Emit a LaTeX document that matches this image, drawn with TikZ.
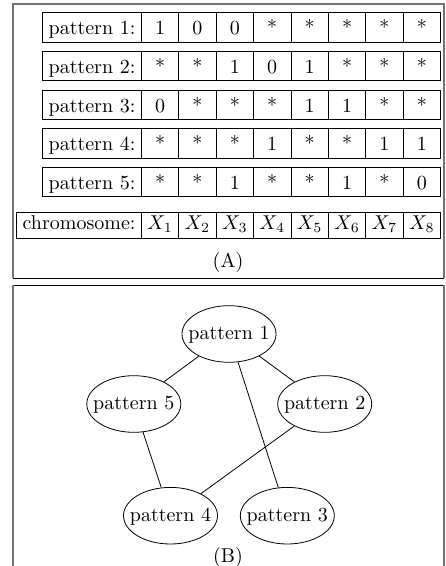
\documentclass[tikz,border=0pt]{standalone}
\usetikzlibrary{shapes.geometric}
\newcommand\st{*}
\begin{document}
\begin{tikzpicture}[x=0.5pt,y=-0.5pt,
  cell/.style={draw, line width=0.4pt, minimum width=18.7pt, minimum height=14.65pt, inner sep=0pt, text height=8pt, text depth=0.5pt},
  lab/.style={cell, minimum width=49.3pt},
  ccell/.style={draw, line width=0.4pt, minimum width=18.7pt, minimum height=12.8pt, inner sep=0pt, text height=6pt, text depth=2.2pt},
  clab/.style={ccell, minimum width=62.3pt},
  ell/.style={ellipse, draw, line width=0.4pt, minimum width=47pt, minimum height=28.3pt, inner sep=0pt, text height=7pt, text depth=1.7pt},
  frame/.style={draw=black!55, line width=0.7pt},
  sep/.style={draw=black, line width=0.5pt}]
\useasboundingbox (0,0) rectangle (445,566);
% frames
\draw[frame] (13,278) -- (13,4) -- (444,4) -- (444,278);
\draw[sep] (13,278) -- (444,278);
\draw[sep] (13,285) -- (444,285);
\draw[frame] (13,285) -- (13,572);
\draw[frame] (444,285) -- (444,572);
% pattern rows
\foreach \row/\vals in {1/{1,0,0,\st,\st,\st,\st,\st},
                        2/{\st,\st,1,0,1,\st,\st,\st},
                        3/{0,\st,\st,\st,1,1,\st,\st},
                        4/{\st,\st,\st,1,\st,\st,1,1},
                        5/{\st,\st,1,\st,\st,1,\st,0}} {
  \node[lab] (r\row c0) at (92,{-11.3+38.7*\row}) {pattern \row:};
  \foreach \v [count=\c] in \vals {
    \node[cell] (r\row c\c) at ({122.6+37.4*\c},{-11.3+38.7*\row}) {\v};
  }
}
% chromosome row
\node[clab] (ch0) at (79,225.5) {chromosome:};
\foreach \c in {1,...,8} {
  \node[ccell] (ch\c) at ({122.6+37.4*\c},225.5) {$X_{\c}$};
}
\node (labA) at (228,262.3) {(A)};
% graph
\node[ell] (p1) at (229,334) {\makebox[0pt]{pattern 1}};
\node[ell] (p5) at (133.8,404) {\makebox[0pt]{pattern 5}};
\node[ell] (p2) at (324.7,404) {\makebox[0pt]{pattern 2}};
\node[ell] (p4) at (170.5,515.7) {\makebox[0pt]{pattern 4}};
\node[ell] (p3) at (287.3,515.7) {\makebox[0pt]{pattern 3}};
\draw (p1) -- (p5);
\draw (p1) -- (p2);
\draw (p1) -- (p3);
\draw (p5) -- (p4);
\draw (p2) -- (p4);
\node (labB) at (228,557.7) {(B)};
\end{tikzpicture}
\end{document}
